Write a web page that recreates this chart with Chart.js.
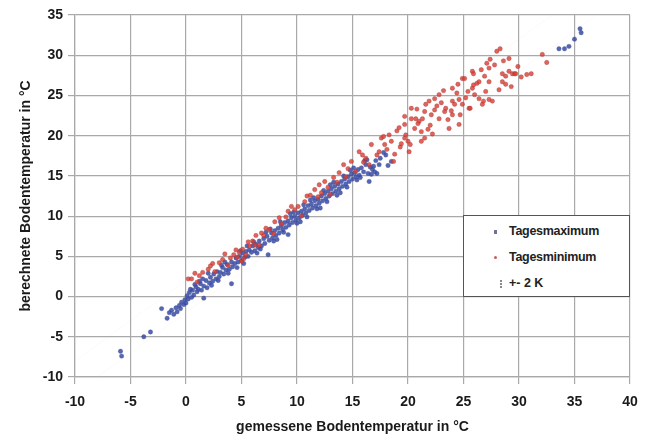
<!DOCTYPE html>
<html><head><meta charset="utf-8">
<script src="https://cdn.jsdelivr.net/npm/chart.js@4.4.1/dist/chart.umd.min.js"></script>
<style>
html,body{margin:0;padding:0;background:#fff;}
#wrap{position:relative;width:651px;height:444px;}
#legend{position:absolute;left:463px;top:215px;width:167px;height:82px;border:1.5px solid #555;background:#fff;box-sizing:border-box;font-family:"Liberation Sans",Arial,sans-serif;font-weight:bold;font-size:12.5px;color:#222;}
.it{position:absolute;left:0;height:15px;line-height:15px;white-space:nowrap;}
.mk{position:absolute;display:block;}
</style></head><body>
<div id="wrap"><canvas id="c" width="651" height="444"></canvas>
<div id="legend">
 <div class="it" style="top:8px;left:30px;"><span class="mk" style="left:0;top:6px;width:3px;height:4px;background:#6d7390;"></span><span style="margin-left:15px;letter-spacing:-0.3px;">Tagesmaximum</span></div>
 <div class="it" style="top:34px;left:30px;"><span class="mk" style="left:0;top:6px;width:3px;height:3px;border-radius:2px;background:#d9574e;"></span><span style="margin-left:15px;letter-spacing:-0.3px;">Tagesminimum</span></div>
 <div class="it" style="top:60px;left:36px;"><span class="mk" style="left:0;top:4px;width:2px;height:8px;border-left:2px dotted #888;"></span><span style="margin-left:9px;">+- 2 K</span></div>
</div></div>
<script>
// Tick range / labels
const xTicks = [-10, -5, 0, 5, 10, 15, 20, 25, 30, 35, 40];
const yTicks = [-10, -5, 0, 5, 10, 15, 20, 25, 30, 35];
const xTitle = 'gemessene Bodentemperatur in °C';
const yTitle = 'berechnete Bodentemperatur in °C';
const seriesNames = ['Tagesmaximum', 'Tagesminimum', '+- 2 K'];

// Tagesmaximum [gemessen, berechnet]
const maxPoints = [
[-5.8,-7.4],[-5.9,-6.8],[-3.8,-5.0],[-3.2,-4.4],[-2.2,-1.5],[-1.7,-2.7],[-1.5,-2.0],[-1.3,-1.7],[-1.1,-2.2],[-0.9,-1.4],
[-0.8,-1.9],[-0.6,-1.1],[-0.5,-1.5],[-0.4,-0.7],[-0.2,-1.0],[-0.1,-0.4],[0.0,-0.8],[0.1,0.1],[0.2,-0.3],[0.3,0.5],
[0.5,-0.1],[0.6,0.8],[0.4,0.9],[0.7,0.2],[0.9,1.2],[1.0,0.6],[1.1,0.9],[1.2,1.9],[1.3,1.6],[1.4,0.8],
[1.6,-0.2],[1.6,1.3],[1.8,2.0],[1.9,1.1],[2.0,2.9],[2.1,1.7],[2.2,2.4],[2.4,1.9],[2.5,2.8],[2.7,2.2],
[2.8,3.1],[2.9,2.0],[3.0,2.5],[3.1,3.0],[3.3,3.6],[3.4,2.8],[3.5,4.3],[3.6,3.3],[3.7,4.0],[3.9,3.4],
[4.1,1.6],[4.1,4.3],[4.2,3.7],[4.4,4.1],[4.5,4.8],[4.6,3.6],[4.7,4.3],[4.8,5.0],[5.0,4.5],[5.1,5.4],
[5.3,4.9],[5.4,5.6],[5.5,6.3],[5.6,5.0],[5.7,5.8],[5.9,5.5],[6.0,6.3],[6.2,5.7],[6.3,6.5],[6.4,5.4],
[6.5,6.1],[6.6,6.9],[6.8,6.3],[7.0,7.2],[7.1,6.6],[7.2,8.0],[7.3,7.5],[7.4,5.2],[7.5,7.0],[7.7,7.9],
[7.8,7.3],[8.0,8.2],[8.1,7.6],[8.2,7.1],[8.3,8.5],[8.4,7.9],[8.6,8.8],[8.7,8.3],[8.9,9.2],[9.0,8.6],
[9.2,7.7],[9.2,9.4],[9.3,8.9],[9.4,10.3],[9.5,9.8],[9.6,9.2],[9.8,10.0],[9.9,9.5],[10.1,10.4],[10.2,9.8],
[10.3,9.3],[10.4,10.6],[10.5,10.1],[10.7,10.9],[10.8,10.4],[11.0,11.3],[11.1,10.7],[11.2,12.0],[11.3,11.5],[11.4,11.0],
[11.6,11.9],[11.7,11.3],[11.9,12.1],[12.0,11.6],[12.1,11.0],[12.2,12.5],[12.3,11.9],[12.5,12.8],[12.6,12.2],[12.8,13.1],
[12.9,12.5],[13.0,13.9],[13.1,13.4],[13.2,12.8],[13.4,13.7],[13.5,13.1],[13.7,14.0],[13.8,13.4],[13.9,12.9],[14.0,14.3],
[14.1,13.7],[14.3,14.6],[14.4,14.0],[14.6,14.9],[14.7,14.3],[14.8,15.7],[14.9,15.2],[15.0,14.6],[15.2,15.4],[15.3,14.9],
[15.4,14.5],[15.5,15.8],[15.6,15.1],[15.8,16.0],[16.0,15.5],[16.1,16.9],[16.2,16.4],[16.4,15.3],[16.5,14.3],[16.6,16.1],
[16.7,15.2],[16.9,16.2],[17.0,15.5],[17.2,15.3],[17.1,16.9],[17.5,17.2],[18.5,16.8],[18.0,17.6],
[0.8,1.5],[1.5,2.2],[2.3,1.4],[3.2,3.9],[3.8,2.9],[4.9,5.7],[5.2,4.1],[6.1,6.8],[6.7,5.9],[7.6,8.4],
[7.9,6.9],[8.5,9.3],[8.8,8.0],[9.7,10.5],[10.0,9.1],[10.6,11.4],[10.9,9.9],[11.5,12.3],[11.8,10.9],[12.4,13.2],
[12.7,11.8],[13.3,14.2],[13.6,12.6],[14.2,15.0],[14.5,13.6],[15.1,16.0],[15.7,14.8],[16.3,17.0],[16.8,15.8],[17.4,16.4],
[17.8,17.9],[18.2,16.3],
[33.6,30.8],[34.1,30.8],[34.5,31.1],[35.0,32.0],[35.5,33.3],[35.6,32.8]
];

// Tagesminimum [gemessen, berechnet]
const minPoints = [
[0.2,2.2],[0.5,2.2],[1.0,1.8],[1.2,2.6],[1.5,3.0],[2.0,3.4],[2.4,4.1],[2.6,3.1],[3.0,4.2],[3.5,5.3],
[3.8,3.9],[4.0,4.8],[4.3,5.2],[4.6,4.9],[4.8,5.5],[5.0,4.4],[5.2,4.7],[5.1,5.9],[5.4,5.2],[5.7,6.3],
[6.0,6.9],[6.3,7.6],[6.6,6.4],[6.8,7.9],[7.2,8.5],[7.5,8.3],[7.9,7.8],[8.0,9.3],[8.4,9.8],[9.0,9.9],
[9.2,10.6],[9.5,11.2],[10.1,11.2],[10.4,10.0],[10.7,11.8],[11.2,12.6],[11.6,13.3],[11.9,12.4],[12.0,13.9],[12.5,14.3],
[12.8,13.6],[13.0,12.7],[13.3,14.8],[13.8,15.4],[14.2,16.4],[14.4,14.9],[14.9,16.8],[15.3,15.6],[15.6,18.0],[16.0,16.7],
[16.2,17.2],[16.7,18.9],[17.2,17.6],[17.4,18.0],[17.6,19.7],[17.9,18.9],[18.3,20.1],[18.5,19.3],[18.7,16.8],[18.8,17.7],
[19.0,20.6],[19.3,18.6],[19.7,19.7],[19.7,21.4],[19.7,22.4],[19.8,20.1],[20.0,19.3],[20.1,18.0],[20.2,18.9],[20.3,22.1],
[20.3,23.4],[20.6,20.9],[20.7,22.1],[21.0,21.8],[21.2,20.5],[21.3,22.1],[21.2,19.3],[21.5,19.7],[21.5,23.0],[21.6,23.9],
[21.8,20.8],[22.0,21.3],[22.1,22.6],[22.4,23.2],[22.4,24.6],[22.8,22.1],[22.8,25.1],[23.0,24.1],[23.3,23.0],[23.4,23.4],
[23.6,22.0],[23.7,20.9],[24.0,24.3],[24.0,22.6],[24.0,25.9],[24.2,23.9],[24.4,25.3],[24.6,24.5],[24.6,21.4],[24.7,22.6],
[24.9,23.9],[24.9,27.1],[25.1,27.1],[25.2,24.7],[25.5,23.4],[25.6,23.4],[25.8,25.9],[25.8,28.0],[25.9,27.7],[26.0,25.1],
[26.2,26.5],[26.4,26.7],[26.4,24.6],[26.7,23.9],[26.8,24.3],[26.9,27.4],[27.1,29.0],[27.3,28.4],[27.3,26.7],[27.3,24.5],
[27.4,29.5],[27.6,24.3],[28.0,30.5],[28.2,25.7],[28.3,30.8],[28.5,27.7],[28.5,26.7],[28.8,26.4],[28.8,27.4],[29.1,28.0],
[29.1,29.6],[29.4,27.7],[29.6,27.7],[29.7,27.7],[30.7,27.6],[31.1,27.7],[32.1,30.1],[32.5,29.1],
[0.8,2.9],[2.2,3.8],[3.3,4.6],[4.5,5.8],[5.6,6.8],[6.2,6.4],[7.0,7.6],[8.6,9.0],[9.8,10.8],[10.9,12.5],
[12.2,12.9],[13.6,14.2],[14.6,15.9],[15.9,17.6],[16.5,16.4],[17.8,19.9],[19.2,21.0],[20.8,23.3],[21.9,24.3],[22.6,23.7],
[23.2,25.6],[23.9,23.1],[24.5,26.4],[25.4,25.5],[25.9,26.3],[26.6,28.2],[27.0,25.5],[27.8,28.8],[28.6,29.3],[29.9,28.6],
[30.2,27.3],[29.3,26.1],[22.2,20.2],[20.9,21.5],[19.4,19.0],[18.1,18.3]
];

// +- 2 K band lines
const bandUpper = [[-10,-8],[33,35]];
const bandLower = [[-8,-10],[40,38]];

const toXY = a => a.map(p => ({x:p[0], y:p[1]}));
const FONT = '"Liberation Sans", Arial, sans-serif';

new Chart(document.getElementById('c'), {
  type: 'scatter',
  data: { datasets: [
    {label: seriesNames[2], type:'line', data: toXY(bandUpper), borderColor:'rgba(235,170,170,0.07)', borderWidth:1, pointRadius:0, order:3},
    {label: seriesNames[2], type:'line', data: toXY(bandLower), borderColor:'rgba(235,170,170,0.07)', borderWidth:1, pointRadius:0, order:3},
    {label: seriesNames[1], data: toXY(minPoints), backgroundColor:'rgba(220,60,50,0.8)', borderColor:'rgba(150,60,60,0.6)', borderWidth:0.6, pointRadius:2.2, order:1},
    {label: seriesNames[0], data: toXY(maxPoints), backgroundColor:'rgba(55,75,170,0.85)', borderColor:'rgba(70,80,140,0.6)', borderWidth:0.6, pointRadius:2.2, order:2}
  ]},
  options: {
    responsive:false, animation:false,
    layout:{padding:{left:18, top:15, right:21, bottom:8}},
    plugins:{legend:{display:false}, tooltip:{enabled:false}},
    scales:{
      x:{type:'linear', min:xTicks[0], max:xTicks[xTicks.length-1],
         afterBuildTicks: s => { s.ticks = xTicks.map(v=>({value:v})); },
         afterFit: s => { s.height = 444 - 377 - 8; },
         grid:{color:'#a9a9a9', lineWidth:1.2, tickLength:7},
         border:{color:'#a9a9a9', width:1.2},
         ticks:{color:'#1a1a1a', font:{family:FONT, size:14, weight:'bold'}, padding:10, maxRotation:0},
         title:{display:true, text:xTitle, color:'#1a1a1a', font:{family:FONT, size:14, weight:'bold'}, padding:{top:0,bottom:0}}},
      y:{type:'linear', min:yTicks[0], max:yTicks[yTicks.length-1],
         afterBuildTicks: s => { s.ticks = yTicks.map(v=>({value:v})); },
         afterFit: s => { s.width = 75 - 18; },
         grid:{color:'#a9a9a9', lineWidth:1.2, tickLength:7},
         border:{color:'#a9a9a9', width:1.2},
         ticks:{color:'#1a1a1a', font:{family:FONT, size:14, weight:'bold'}, padding:5},
         title:{display:true, text:yTitle, color:'#1a1a1a', font:{family:FONT, size:14, weight:'bold'}, padding:{top:0,bottom:0}}}
    }
  }
});
</script></body></html>
